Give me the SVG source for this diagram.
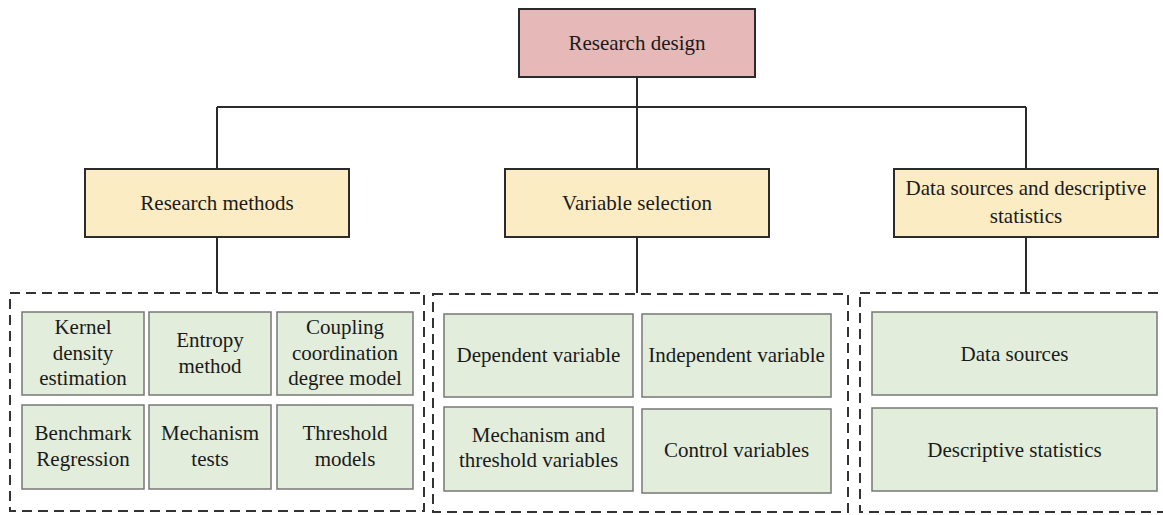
<svg xmlns="http://www.w3.org/2000/svg" width="1163" height="515" viewBox="0 0 1163 515">
<style>
text{font-family:'Liberation Serif','Times New Roman',Times,Tinos,'Noto Serif','DejaVu Serif',FreeSerif,'Nimbus Roman',serif;font-size:21px;fill:#1a1a1a;text-anchor:middle}
.top{fill:#e6b8b7;stroke:#2b2b2b;stroke-width:2}
.mid{fill:#fcecc3;stroke:#2b2b2b;stroke-width:2}
.leaf{fill:#e3eddb;stroke:#777;stroke-width:1.5}
.dash{fill:none;stroke:#333;stroke-width:2;stroke-dasharray:10 6}
.conn{fill:none;stroke:#2b2b2b;stroke-width:2}
</style>
<rect width="1163" height="515" fill="#fff"/>
<g id="connectors">
<path class="conn" d="M637 77V107M217 107H1026M217 107V169M637 107V169M1026 107V169M217 237V293M637 237V293M1026 237V293"/>
</g>
<g id="research-design"><rect class="top" x="519" y="9" width="236" height="68"/><text x="637" y="50">Research design</text></g>
<g id="research-methods"><rect class="mid" x="85" y="169" width="264" height="68"/><text x="217" y="210">Research methods</text></g>
<g id="variable-selection"><rect class="mid" x="505" y="169" width="264" height="68"/><text x="637" y="210">Variable selection</text></g>
<g id="data-sources-desc"><rect class="mid" x="894" y="169" width="264" height="68"/><text x="1026" y="195">Data sources and descriptive</text><text x="1026" y="223">statistics</text></g>
<g id="group-methods">
<rect class="dash" x="10" y="293" width="414" height="218"/>
<g id="kernel"><rect class="leaf" x="22" y="312" width="122" height="83"/><text x="83" y="334">Kernel</text><text x="83" y="360">density</text><text x="83" y="385">estimation</text></g>
<g id="entropy"><rect class="leaf" x="149" y="312" width="122" height="83"/><text x="210" y="347">Entropy</text><text x="210" y="373">method</text></g>
<g id="coupling"><rect class="leaf" x="277" y="312" width="136" height="83"/><text x="345" y="334">Coupling</text><text x="345" y="360">coordination</text><text x="345" y="385">degree model</text></g>
<g id="benchmark"><rect class="leaf" x="22" y="405" width="122" height="84"/><text x="83" y="440">Benchmark</text><text x="83" y="466">Regression</text></g>
<g id="mechanism-tests"><rect class="leaf" x="149" y="405" width="122" height="84"/><text x="210" y="440">Mechanism</text><text x="210" y="466">tests</text></g>
<g id="threshold"><rect class="leaf" x="277" y="405" width="136" height="84"/><text x="345" y="440">Threshold</text><text x="345" y="466">models</text></g>
</g>
<g id="group-variables">
<rect class="dash" x="433" y="294" width="415" height="218"/>
<g id="dependent"><rect class="leaf" x="444" y="314" width="189" height="83"/><text x="538.5" y="362">Dependent variable</text></g>
<g id="independent"><rect class="leaf" x="642" y="314" width="189" height="83"/><text x="736.5" y="362">Independent variable</text></g>
<g id="mech-threshold"><rect class="leaf" x="444" y="407" width="189" height="84"/><text x="538.5" y="442">Mechanism and</text><text x="538.5" y="467">threshold variables</text></g>
<g id="control"><rect class="leaf" x="642" y="409" width="189" height="84"/><text x="736.5" y="457">Control variables</text></g>
</g>
<g id="group-data">
<rect class="dash" x="860" y="293" width="308" height="219"/>
<g id="data-sources"><rect class="leaf" x="872" y="312" width="285" height="83"/><text x="1014.5" y="361">Data sources</text></g>
<g id="descriptive"><rect class="leaf" x="872" y="408" width="285" height="83"/><text x="1014.5" y="457">Descriptive statistics</text></g>
</g>
</svg>
